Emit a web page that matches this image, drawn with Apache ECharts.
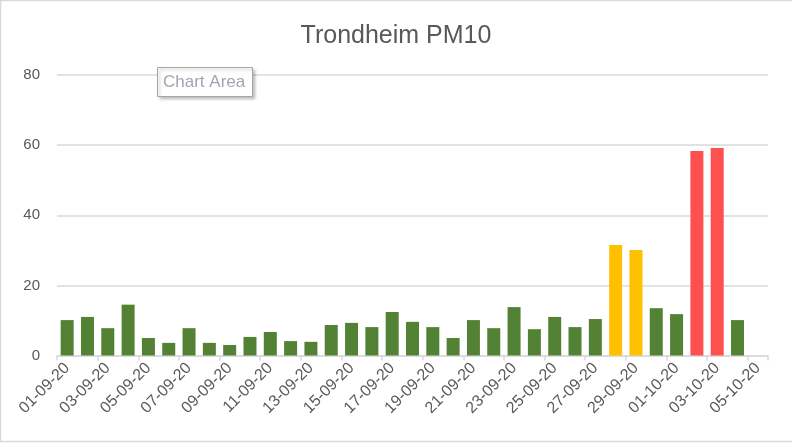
<!DOCTYPE html>
<html>
<head>
<meta charset="utf-8">
<script src="https://cdn.jsdelivr.net/npm/echarts@6/dist/echarts.min.js"></script>
<style>
html,body{margin:0;padding:0;background:#fff;}
#c{width:792px;height:444px;}
</style>
</head>
<body>
<div id="c"></div>
<script>
var categories = ['01-09-20','02-09-20','03-09-20','04-09-20','05-09-20','06-09-20','07-09-20','08-09-20','09-09-20','10-09-20',
  '11-09-20','12-09-20','13-09-20','14-09-20','15-09-20','16-09-20','17-09-20','18-09-20','19-09-20','20-09-20',
  '21-09-20','22-09-20','23-09-20','24-09-20','25-09-20','26-09-20','27-09-20','28-09-20','29-09-20','30-09-20',
  '01-10-20','02-10-20','03-10-20','04-10-20','05-10-20'];
var pm10 = [10.1, 11.0, 7.8, 14.5, 5.0, 3.6, 7.8, 3.6, 3.0, 5.3,
  6.7, 4.1, 3.9, 8.7, 9.3, 8.1, 12.4, 9.6, 8.1, 5.0,
  10.1, 7.8, 13.8, 7.5, 11.0, 8.1, 10.4, 31.5, 30.1, 13.5,
  11.8, 58.3, 59.2, 10.1, null];
var yTicks = [0, 20, 40, 60, 80];

function barColor(v) {
  if (v > 50) return '#FF5050';
  if (v > 25) return '#FFC000';
  return '#548235';
}

var chart = echarts.init(document.getElementById('c'), null, {renderer: 'canvas'});
var font = '"Liberation Sans", Arial, sans-serif';
chart.setOption({
  animation: false,
  backgroundColor: '#ffffff',
  title: {
    text: 'Trondheim PM10',
    left: 'center',
    top: 19,
    textStyle: {fontFamily: font, fontSize: 25, fontWeight: 'normal', color: '#595959'}
  },
  grid: {left: 57, right: 24, top: 75, bottom: 88.5, containLabel: false},
  xAxis: {
    type: 'category',
    data: categories,
    boundaryGap: true,
    axisLine: {show: true, lineStyle: {color: '#d9d9d9', width: 1.5}},
    axisTick: {show: true, interval: 1, alignWithLabel: false, length: 5, lineStyle: {color: '#d9d9d9', width: 1.5}},
    axisLabel: {interval: 1, rotate: 45, margin: 10, color: '#595959', fontFamily: font, fontSize: 16}
  },
  yAxis: {
    type: 'value',
    min: yTicks[0],
    max: yTicks[yTicks.length - 1],
    interval: 20,
    axisLine: {show: false},
    axisTick: {show: false},
    splitLine: {lineStyle: {color: '#d9d9d9', width: 1.5}},
    axisLabel: {margin: 17, color: '#595959', fontFamily: font, fontSize: 15}
  },
  series: [{
    type: 'bar',
    barCategoryGap: '36%',
    data: pm10.map(function (v) {
      return v === null ? null : {value: v, itemStyle: {color: barColor(v)}};
    })
  }],
  graphic: [
    {type: 'rect', shape: {x: 0.5, y: 0.5, width: 800, height: 441}, style: {fill: 'none', stroke: '#d9d9d9', lineWidth: 1.5}, silent: true, z: 100},
    {type: 'rect', shape: {x: 157.5, y: 67.5, width: 95, height: 29}, style: {fill: '#ffffff', stroke: '#a6a6a6', lineWidth: 1, shadowBlur: 3, shadowOffsetX: 2, shadowOffsetY: 2, shadowColor: 'rgba(0,0,0,0.25)'}, z: 100},
    {type: 'text', x: 163, y: 82, style: {text: 'Chart Area', fill: '#a3a3b5', font: '17px ' + font, textVerticalAlign: 'middle'}, z: 101}
  ]
});
</script>
</body>
</html>
